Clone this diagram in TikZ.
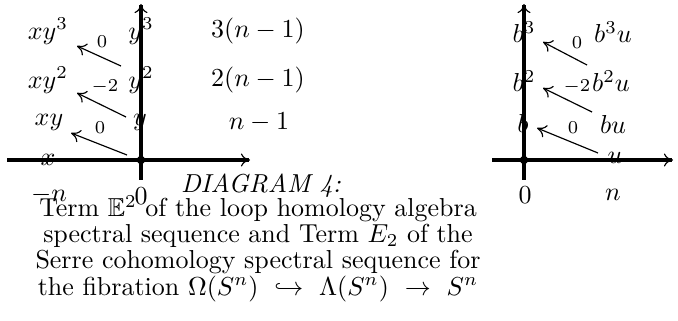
\documentclass[tikz,border=0pt]{standalone}
\usepackage{amssymb}
\usetikzlibrary{arrows.meta}

\tikzset{
  eje/.style={line width=1.2pt, -{To[line width=0.45pt, length=3.5pt, width=5pt]}},
  dif/.style={line width=0.45pt, -{To[length=3.5pt, width=5pt]}},
  etiq/.style={font=\scriptsize, inner sep=1pt},
}

\begin{document}
\begin{tikzpicture}[x=0.385pt, y=-0.385pt]
\useasboundingbox (0,0) rectangle (678,321);

% Diagrama izquierdo
	\draw[eje] (141,180) -- (141,4);
	\draw[eje] (7,160) -- (250,160);
	\fill (141,160) circle (1.6pt);

	\node (x)   at (48,160) {$x$};
	\node (xy)  at (49,122) {$xy$};
	\node (xy2) at (48,80)  {$xy^2$};
	\node (xy3) at (48,31)  {$xy^3$};
	\node (y)   at (140,122) {$y$};
	\node (y2)  at (141,80)  {$y^2$};
	\node (y3)  at (141,31)  {$y^3$};
	\node (g1)  at (259,122) {$n-1$};
	\node (g2)  at (258,80)  {$2(n-1)$};
	\node (g3)  at (258,31)  {$3(n-1)$};
	\node (mn)  at (49,195)  {$-n$};
	\node (c0)  at (141,196) {$0$};

	\coordinate (d1s) at (127,155); \coordinate (d1t) at (71,133);
	\coordinate (d2s) at (126,117); \coordinate (d2t) at (77,93);
	\coordinate (d3s) at (121,66);  \coordinate (d3t) at (77,46);
	\foreach \i in {1,2,3}
		\draw[dif] (d\i s) -- (d\i t);

	\node[etiq] (e1) at (100,128) {$0$};
	\node[etiq] (e2) at (105,87)  {$-2$};
	\node[etiq] (e3) at (102,42)  {$0$};

% Diagrama derecho
	\draw[eje] (524,180) -- (524,4);
	\draw[eje] (492,160) -- (673,160);
	\fill (524,160) circle (1.6pt);

	\node (b)   at (523,123) {$b$};
	\node (b2)  at (524,81)  {$b^2$};
	\node (b3)  at (524,32)  {$b^3$};
	\node (u)   at (615,158) {$u$};
	\node (bu)  at (613,124) {$bu$};
	\node (b2u) at (611,81)  {$b^2u$};
	\node (b3u) at (613,32)  {$b^3u$};
	\node (r0)  at (525,195) {$0$};
	\node (rn)  at (613,195) {$n$};

	\coordinate (f1s) at (598,153); \coordinate (f1t) at (537,128);
	\coordinate (f2s) at (592,112); \coordinate (f2t) at (543,88);
	\coordinate (f3s) at (587,65);  \coordinate (f3t) at (543,42);
	\foreach \i in {1,2,3}
		\draw[dif] (f\i s) -- (f\i t);

	\node[etiq] (h1) at (573,128) {$0$};
	\node[etiq] (h2) at (577,87)  {$-2$};
	\node[etiq] (h3) at (577,43)  {$0$};

% Leyenda
	\node[anchor=base] (titulo) at (261,193) {\textit{DIAGRAM 4:}};
	\foreach \t [count=\i] in {Term $\mathbb{E}^2$ of the loop homology algebra,
		spectral sequence and Term $E_2$ of the,
		Serre cohomology spectral sequence for,
		the fibration $\Omega(S^n)\ \hookrightarrow\ \Lambda(S^n)\ \to\ S^n$}
		\node[anchor=base] (linea\i) at (258,{191+26*\i}) {\t};
\end{tikzpicture}
\end{document}
